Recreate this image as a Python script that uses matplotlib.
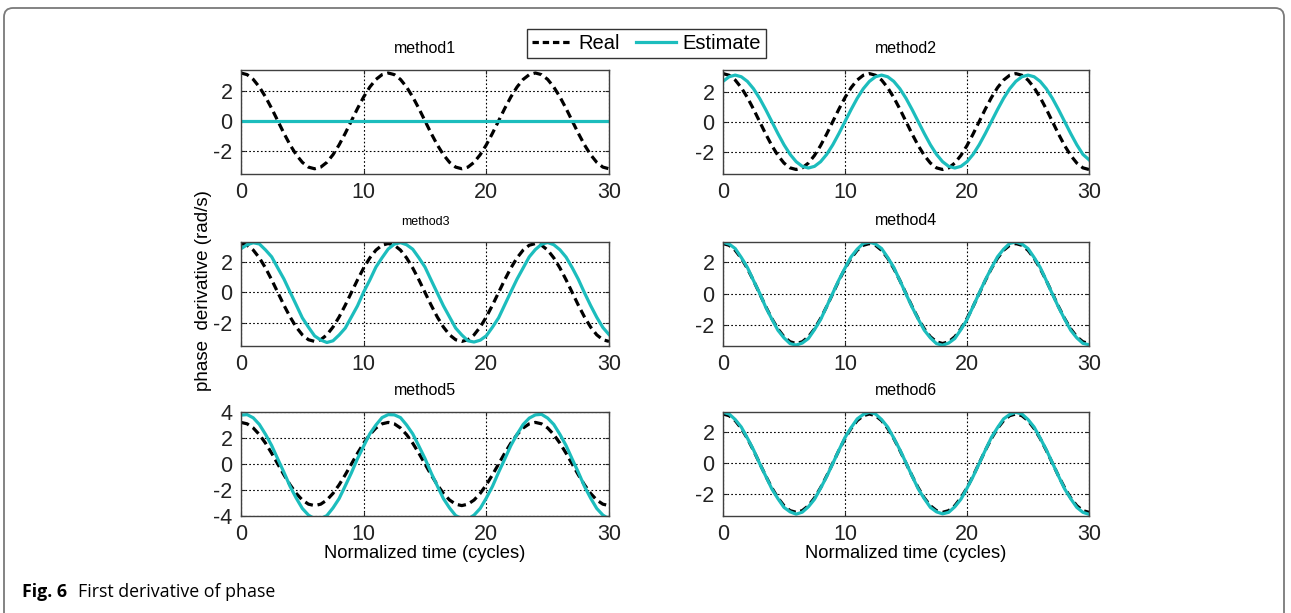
import numpy as np
import matplotlib
matplotlib.use("Agg")
import matplotlib.pyplot as plt
from matplotlib.patches import FancyBboxPatch
from matplotlib.lines import Line2D

# time axis (normalized cycles), one sample every half cycle
t = np.linspace(0, 30, 61)

# real first derivative of phase (same in every panel)
real = [
    3.20, 3.09, 2.77, 2.26, 1.60, 0.83, 0.00, -0.83, -1.60, -2.26, -2.77, -3.09,
    -3.20, -3.09, -2.77, -2.26, -1.60, -0.83, 0.00, 0.83, 1.60, 2.26, 2.77, 3.09,
    3.20, 3.09, 2.77, 2.26, 1.60, 0.83, 0.00, -0.83, -1.60, -2.26, -2.77, -3.09,
    -3.20, -3.09, -2.77, -2.26, -1.60, -0.83, 0.00, 0.83, 1.60, 2.26, 2.77, 3.09,
    3.20, 3.09, 2.77, 2.26, 1.60, 0.83, 0.00, -0.83, -1.60, -2.26, -2.77, -3.09,
    -3.20]

# estimates per method
t_est1 = [0, 30]
est1 = [0.0, 0.0]

est2 = [
    2.68, 2.99, 3.10, 2.99, 2.68, 2.19, 1.55, 0.80, 0.00, -0.80, -1.55, -2.19,
    -2.68, -2.99, -3.10, -2.99, -2.68, -2.19, -1.55, -0.80, 0.00, 0.80, 1.55, 2.19,
    2.68, 2.99, 3.10, 2.99, 2.68, 2.19, 1.55, 0.80, 0.00, -0.80, -1.55, -2.19,
    -2.68, -2.99, -3.10, -2.99, -2.68, -2.19, -1.55, -0.80, 0.00, 0.80, 1.55, 2.19,
    2.68, 2.99, 3.10, 2.99, 2.68, 2.19, 1.55, 0.80, 0.00, -0.80, -1.55, -2.19,
    -2.55]

est3 = [
    2.86, 3.12, 3.25, 3.17, 2.78, 2.33, 1.60, 0.88, 0.03, -0.81, -1.66, -2.27,
    -2.84, -3.11, -3.27, -3.16, -2.78, -2.33, -1.60, -0.87, 0.03, 0.81, 1.66, 2.27,
    2.84, 3.16, 3.26, 3.12, 2.83, 2.27, 1.66, 0.81, -0.03, -0.87, -1.60, -2.33,
    -2.78, -3.16, -3.24, -3.12, -2.83, -2.27, -1.66, -0.81, 0.04, 0.87, 1.60, 2.33,
    2.81, 3.15, 3.27, 3.12, 2.79, 2.31, 1.62, 0.86, -0.02, -0.85, -1.62, -2.29,
    -2.75]

est4 = [
    3.28, 3.17, 2.88, 2.31, 1.67, 0.83, 0.03, -0.87, -1.63, -2.35, -2.84, -3.21,
    -3.30, -3.17, -2.88, -2.31, -1.67, -0.83, 0.03, 0.87, 1.63, 2.35, 2.84, 3.21,
    3.29, 3.17, 2.88, 2.31, 1.67, 0.83, -0.03, -0.87, -1.63, -2.35, -2.84, -3.21,
    -3.31, -3.17, -2.88, -2.31, -1.67, -0.83, 0.03, 0.87, 1.63, 2.35, 2.84, 3.21,
    3.30, 3.17, 2.88, 2.31, 1.67, 0.83, -0.03, -0.87, -1.63, -2.35, -2.84, -3.19,
    -3.28]

est5 = [
    3.76, 3.80, 3.55, 3.04, 2.28, 1.42, 0.38, -0.64, -1.72, -2.62, -3.42, -3.93,
    -4.22, -4.20, -3.97, -3.38, -2.66, -1.68, -0.68, 0.42, 1.38, 2.32, 3.00, 3.57,
    3.80, 3.78, 3.57, 3.00, 2.32, 1.38, 0.42, -0.68, -1.68, -2.66, -3.38, -3.97,
    -4.20, -4.24, -3.93, -3.42, -2.62, -1.72, -0.64, 0.38, 1.42, 2.28, 3.04, 3.53,
    3.78, 3.82, 3.53, 3.04, 2.28, 1.42, 0.38, -0.64, -1.72, -2.62, -3.42, -3.93,
    -4.22]

est6 = [
    3.31, 3.20, 2.84, 2.35, 1.63, 0.87, -0.02, -0.84, -1.67, -2.31, -2.88, -3.17,
    -3.32, -3.19, -2.84, -2.35, -1.63, -0.87, -0.02, 0.84, 1.67, 2.31, 2.88, 3.17,
    3.32, 3.20, 2.84, 2.35, 1.63, 0.87, 0.02, -0.84, -1.67, -2.31, -2.88, -3.17,
    -3.30, -3.20, -2.84, -2.35, -1.63, -0.87, -0.02, 0.84, 1.67, 2.31, 2.88, 3.17,
    3.31, 3.20, 2.84, 2.35, 1.63, 0.87, 0.02, -0.84, -1.67, -2.31, -2.88, -3.20,
    -3.33]

titles = ["method1", "method2", "method3", "method4", "method5", "method6"]
estimates = [(t_est1, est1), (t, est2), (t, est3), (t, est4), (t, est5), (t, est6)]
ylims = [(-3.55, 3.4), (-3.5, 3.44), (-3.5, 3.3), (-3.36, 3.3), (-4, 4), (-3.44, 3.33)]
xticks = [0, 10, 20, 30]

CYAN = "#1CBDBD"
plt.rcParams["font.family"] = ["Liberation Sans", "DejaVu Sans"]
plt.rcParams["axes.unicode_minus"] = False

W, H = 1291, 613
fig = plt.figure(figsize=(W / 100, H / 100), dpi=100)

# outer rounded frame of the journal figure (bottom edge runs off the canvas)
frame = FancyBboxPatch((0.04, -0.3), 12.80, 6.35,
                       boxstyle="round,pad=0,rounding_size=0.09",
                       transform=fig.dpi_scale_trans, fill=False,
                       edgecolor="#7a7a7a", linewidth=1.3)
fig.patches.append(frame)

col_left = [241, 723]
col_w = [368, 366]
row_top = [70, 242, 412]
row_h = 104

for i, (title, (tx, ey), yl) in enumerate(zip(titles, estimates, ylims)):
    r, c = divmod(i, 2)
    ax = fig.add_axes([col_left[c] / W, 1 - (row_top[r] + row_h) / H,
                       col_w[c] / W, row_h / H])
    ax.plot(t, real, color="black", lw=2.3, dashes=(2.6, 1.5))
    ax.plot(tx, ey, color=CYAN, lw=2.3)
    ax.set_xlim(0, 30)
    ax.set_ylim(*yl)
    ax.set_xticks(xticks)
    if i == 4:
        ax.set_yticks([-4, -2, 0, 2, 4])
    else:
        ax.set_yticks([-2, 0, 2])
    ax.grid(True, color="black", linestyle=(0, (1.5, 2.0)), linewidth=0.8)
    ax.tick_params(labelsize=15.5, direction="in", length=3, width=0.8,
                   top=True, right=True, pad=6, colors="#222222")
    for s in ax.spines.values():
        s.set_color("#404040")
        s.set_linewidth(1.0)
    ax.set_title(title, fontsize=9 if i == 2 else 11.5, pad=12 if i == 2 else 12)
    if r == 2:
        ax.set_xlabel("Normalized time (cycles)", fontsize=13.2, labelpad=0)

fig.text(203 / W, 1 - 291 / H, "phase  derivative (rad/s)", rotation=90,
         fontsize=13.5, ha="center", va="center")

handles = [Line2D([], [], color="black", lw=2.3, dashes=(2.0, 1.2)),
           Line2D([], [], color=CYAN, lw=2.3)]
fig.legend(handles, ["Real", "Estimate"], loc="center", ncol=2,
           bbox_to_anchor=(646.5 / W, 1 - 43.5 / H), fontsize=14.5,
           frameon=True, fancybox=False, edgecolor="#333333", framealpha=1,
           handlelength=2.0, handletextpad=0.3, columnspacing=0.8,
           borderpad=0.25, borderaxespad=0)

fig.text(22 / W, 1 - 592 / H, "Fig. 6", fontsize=12.8, fontweight="bold",
         family=["Open Sans", "DejaVu Sans"], va="center")
fig.text(78 / W, 1 - 592 / H, "First derivative of phase", fontsize=12.8,
         family=["Open Sans", "DejaVu Sans"], va="center")

fig.savefig("out.png", dpi=100)
